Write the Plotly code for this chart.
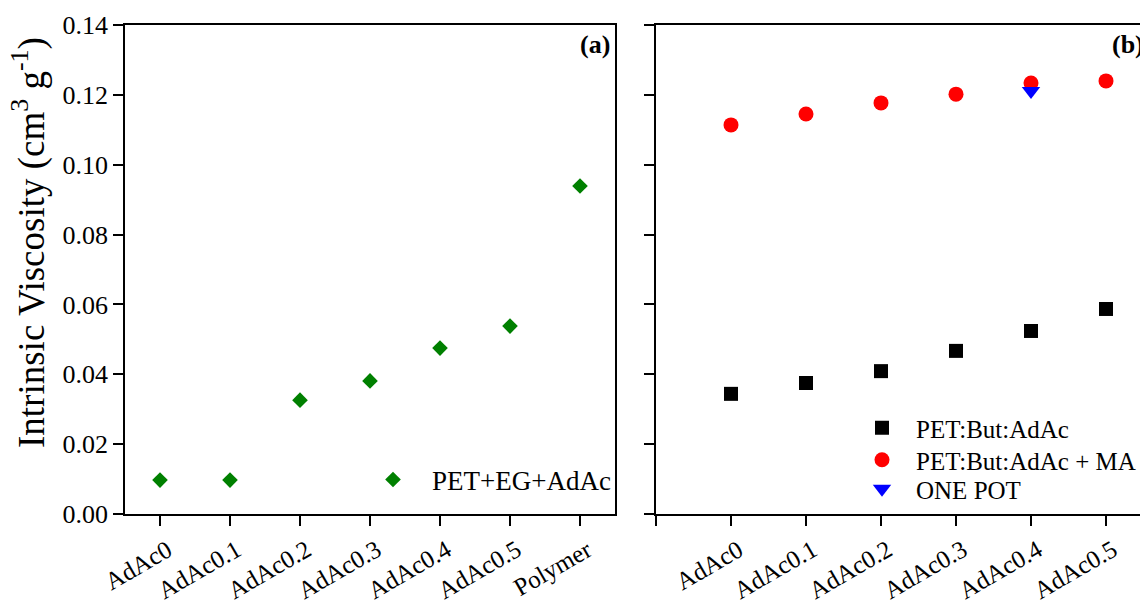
import plotly.graph_objects as go

# Panel (a): PET + EG + AdAc series
cats_a = ["AdAc0", "AdAc0.1", "AdAc0.2", "AdAc0.3", "AdAc0.4", "AdAc0.5", "Polymer"]
visc_a = [0.0097, 0.0097, 0.0326, 0.0381, 0.0475, 0.0538, 0.0939]

# Panel (b): butanediol series, with and without MA, and one-pot sample
cats_b = ["AdAc0", "AdAc0.1", "AdAc0.2", "AdAc0.3", "AdAc0.4", "AdAc0.5"]
visc_but = [0.0344, 0.0375, 0.0409, 0.0467, 0.0524, 0.0587]
visc_but_ma = [0.1114, 0.1145, 0.1177, 0.1202, 0.1234, 0.1240]
cats_onepot = ["AdAc0.4"]
visc_onepot = [0.1211]

y_ticks = [0.00, 0.02, 0.04, 0.06, 0.08, 0.10, 0.12, 0.14]

FONT = "Liberation Serif, Times New Roman, serif"
W, H = 1140, 605

def px_x(p):
    return p / W

def px_y(p):
    return 1 - p / H

idx_a = list(range(len(cats_a)))
idx_b = list(range(len(cats_b)))
idx_onepot = [cats_b.index(c) for c in cats_onepot]

fig = go.Figure()

fig.add_trace(go.Scatter(
    x=idx_a, y=visc_a, mode="markers", name="PET+EG+AdAc",
    marker=dict(symbol="diamond", size=12, color="#008000"),
    xaxis="x", yaxis="y", legend="legend", showlegend=True,
))
fig.add_trace(go.Scatter(
    x=idx_b, y=visc_but, mode="markers", name="PET:But:AdAc",
    marker=dict(symbol="square", size=14, color="#000000"),
    xaxis="x2", yaxis="y2", legend="legend2", showlegend=True,
))
fig.add_trace(go.Scatter(
    x=idx_b, y=visc_but_ma, mode="markers", name="PET:But:AdAc + MA",
    marker=dict(symbol="circle", size=15, color="#ff0000"),
    xaxis="x2", yaxis="y2", legend="legend3", showlegend=True,
))
fig.add_trace(go.Scatter(
    x=idx_onepot, y=visc_onepot, mode="markers", name="ONE POT",
    marker=dict(symbol="triangle-down", size=16, color="#0000ff"),
    xaxis="x2", yaxis="y2", legend="legend4", showlegend=True,
))

axis_common = dict(
    showline=True, linecolor="#000000", linewidth=1.5,
    ticks="outside", ticklen=10, tickwidth=1.5, tickcolor="#000000",
    showgrid=False, zeroline=False,
)
ytick_font = dict(family=FONT, size=26, color="#000000")

y_dom = [px_y(514), px_y(25)]


def legend_box(x_px, y_px, size, itemwidth):
    return dict(
        x=px_x(x_px), y=px_y(y_px), xanchor="left", yanchor="middle",
        bgcolor="rgba(0,0,0,0)", borderwidth=0, visible=True,
        font=dict(family=FONT, size=size, color="#000000"),
        itemwidth=itemwidth,
    )


def slanted_labels(xref, positions, texts):
    # category labels, rotated and hung just below-right of each tick
    return [
        dict(text=t, x=p, y=px_y(534), xref=xref, yref="paper",
             xanchor="right", yanchor="top", xshift=17, textangle=-30,
             showarrow=False, borderpad=0,
             font=dict(family=FONT, size=25, color="#000000"))
        for p, t in zip(positions, texts)
    ]


annotations = [
    dict(text="Intrinsic Viscosity (cm<sup>3</sup> g<sup>-1</sup>)",
         x=px_x(29), y=px_y(243), xref="paper", yref="paper",
         xanchor="center", yanchor="middle", textangle=-90, showarrow=False,
         font=dict(family=FONT, size=37, color="#000000")),
    dict(text="<b>(a)</b>", x=px_x(578), y=px_y(45), xref="paper", yref="paper",
         xanchor="left", yanchor="middle", showarrow=False,
         font=dict(family=FONT, size=26, color="#000000")),
    dict(text="<b>(b)</b>", x=px_x(1110), y=px_y(45), xref="paper", yref="paper",
         xanchor="left", yanchor="middle", showarrow=False,
         font=dict(family=FONT, size=26, color="#000000")),
]
annotations += slanted_labels("x", idx_a, cats_a)
annotations += slanted_labels("x2", idx_b, cats_b)

fig.update_layout(
    width=W, height=H,
    margin=dict(l=0, r=0, t=0, b=0, autoexpand=False),
    paper_bgcolor="white", plot_bgcolor="white",
    font=dict(family=FONT, color="#000000"),
    showlegend=True,
    xaxis=dict(
        domain=[px_x(125), px_x(615)], range=[-0.5, 6.5],
        tickmode="array", tickvals=idx_a, showticklabels=False,
        mirror=True, **axis_common,
    ),
    yaxis=dict(
        domain=y_dom, range=[0, 0.14], anchor="x",
        tickmode="array", tickvals=y_ticks,
        ticktext=[f"{v:.2f}" for v in y_ticks],
        tickfont=ytick_font, mirror=True, **axis_common,
    ),
    xaxis2=dict(
        domain=[px_x(656), 1.0], range=[-1, (W - 656) / 75.0 - 1],
        tickmode="array", tickvals=[-1] + idx_b, showticklabels=False,
        mirror=True, anchor="y2", **axis_common,
    ),
    yaxis2=dict(
        domain=y_dom, range=[0, 0.14], anchor="x2",
        tickmode="array", tickvals=y_ticks, showticklabels=False,
        mirror=False, **axis_common,
    ),
    legend=legend_box(354, 480, 27, 68),
    legend2=legend_box(848, 428, 25, 58),
    legend3=legend_box(848, 460, 25, 58),
    legend4=legend_box(848, 489, 25, 58),
    annotations=annotations,
)

fig.write_html("out.html")
